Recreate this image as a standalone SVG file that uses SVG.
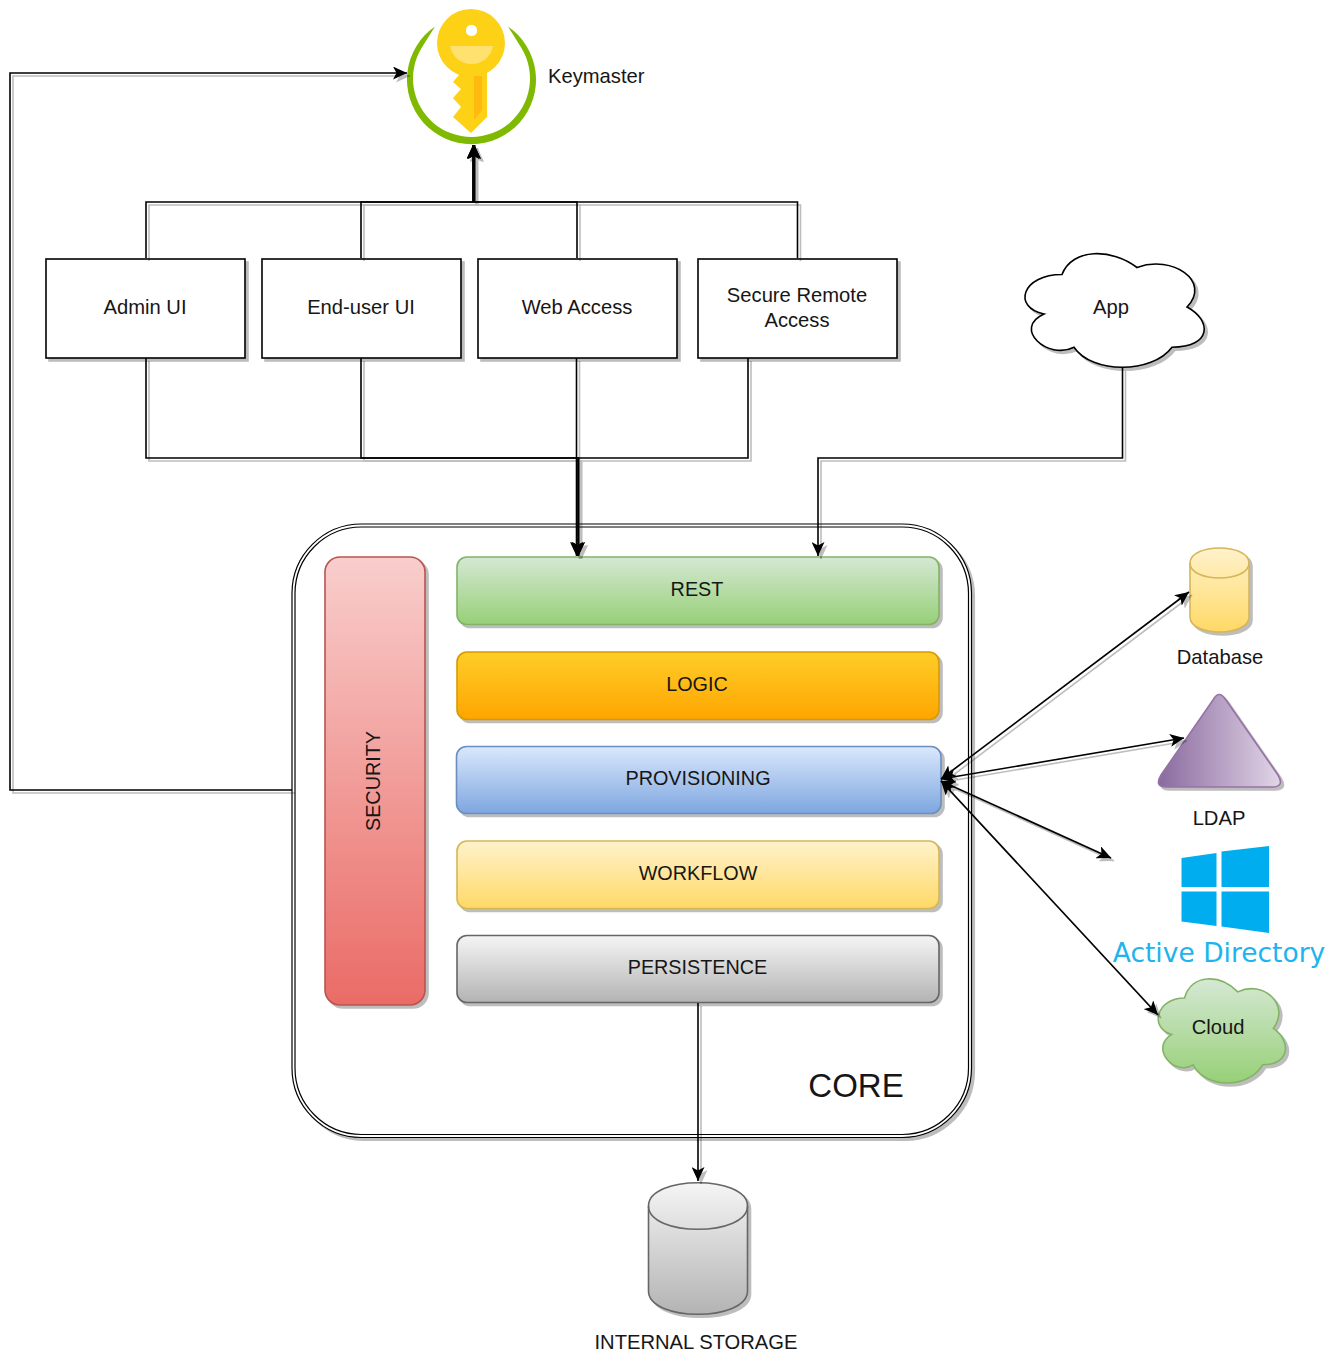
<svg xmlns="http://www.w3.org/2000/svg" width="1328" height="1351" viewBox="0 0 1328 1351">
<style>
text{font-family:"Liberation Sans",Arial,sans-serif;font-size:20.2px;fill:#161616;text-anchor:middle}
.up{font-size:19.8px}
.sh{filter:url(#shadow)}
.box{fill:#fff;stroke:#000;stroke-width:1.6}
.bar{stroke-width:1.6}
.c{fill:none;stroke:#000;stroke-width:1.6;marker-end:url(#arrow)}
.c2{fill:none;stroke:#000;stroke-width:1.6;marker-start:url(#arrow);marker-end:url(#arrow)}
</style>
<defs>
<filter id="shadow" filterUnits="userSpaceOnUse" x="0" y="0" width="1328" height="1351" color-interpolation-filters="sRGB"><feDropShadow dx="3" dy="3" stdDeviation="0.6" flood-color="#000" flood-opacity="0.26"/></filter>
<marker id="arrow" markerUnits="userSpaceOnUse" viewBox="0 0 14 13" markerWidth="14" markerHeight="13" refX="14" refY="6.5" orient="auto-start-reverse"><path d="M0,0L14,6.5L0,13L3.500,6.5Z" fill="#000"/></marker>
<linearGradient id="gGreen" x1="0" y1="0" x2="0" y2="1"><stop offset="0" stop-color="#d5e8d4"/><stop offset="1" stop-color="#97d077"/></linearGradient>
<linearGradient id="gOrange" x1="0" y1="0" x2="0" y2="1"><stop offset="0" stop-color="#ffcd28"/><stop offset="1" stop-color="#ffa500"/></linearGradient>
<linearGradient id="gBlue" x1="0" y1="0" x2="0" y2="1"><stop offset="0" stop-color="#dae8fc"/><stop offset="1" stop-color="#7ea6e0"/></linearGradient>
<linearGradient id="gYellow" x1="0" y1="0" x2="0" y2="1"><stop offset="0" stop-color="#fff2cc"/><stop offset="1" stop-color="#ffd966"/></linearGradient>
<linearGradient id="gGrey" x1="0" y1="0" x2="0" y2="1"><stop offset="0" stop-color="#f5f5f5"/><stop offset="1" stop-color="#b3b3b3"/></linearGradient>
<linearGradient id="gRed" x1="0" y1="0" x2="0" y2="1"><stop offset="0" stop-color="#f8cecc"/><stop offset="1" stop-color="#ea6b66"/></linearGradient>
<linearGradient id="gPurple" x1="0" y1="0" x2="1" y2="0"><stop offset="0" stop-color="#8a6a9e"/><stop offset="1" stop-color="#e1d5e7"/></linearGradient>
</defs>

<g id="core">
<rect class="sh" x="293.500" y="525.500" width="676.500" height="610.500" rx="68" fill="#fff" stroke="#000" stroke-width="4.200"/>
<rect x="293.500" y="525.500" width="676.500" height="610.500" rx="68" fill="none" stroke="#fff" stroke-width="1.800"/>
<text x="856" y="1097" style="font-size:33px">CORE</text>
</g>

<g id="security">
<rect class="sh bar" x="325" y="557" width="100" height="448" rx="15" fill="url(#gRed)" stroke="#b85450"/>
<text class="up" transform="translate(380,781) rotate(-90)">SECURITY</text>
</g>
<g id="rest">
<rect class="sh bar" x="457" y="557" width="482" height="67.500" rx="10" fill="url(#gGreen)" stroke="#82b366"/>
<text class="up" x="697" y="596">REST</text>
</g>
<g id="logic">
<rect class="sh bar" x="457" y="652" width="482" height="67.500" rx="10" fill="url(#gOrange)" stroke="#d79b00"/>
<text class="up" x="697" y="690.500">LOGIC</text>
</g>
<g id="provisioning">
<rect class="sh bar" x="456.500" y="746.500" width="484.500" height="67" rx="10" fill="url(#gBlue)" stroke="#6c8ebf"/>
<text class="up" x="698" y="785">PROVISIONING</text>
</g>
<g id="workflow">
<rect class="sh bar" x="457" y="841" width="482" height="67.500" rx="10" fill="url(#gYellow)" stroke="#d6b656"/>
<text class="up" x="698" y="879.500">WORKFLOW</text>
</g>
<g id="persistence">
<rect class="sh bar" x="457" y="935.500" width="482" height="67" rx="10" fill="url(#gGrey)" stroke="#666"/>
<text class="up" x="697.500" y="974">PERSISTENCE</text>
</g>

<g id="keymaster">
<path d="M435,26.500A64.500,64.500 0 1 0 508,26.500L521.100,47.500A58.500,58.500 0 1 1 421.900,47.500Z" fill="#7fba00"/>
<path d="M459,75L453,82L461,89L453,98L461,107L453,117L471,133L487,117V68H459Z" fill="#fcd116"/>
<circle cx="471" cy="43" r="34" fill="#fcd116"/>
<rect x="466" y="25" width="11" height="11" rx="5" fill="#fff"/>
<path d="M450,46H493C491,57 482,64 471.500,64C461,64 452,57 450,46Z" fill="#ffe16f"/>
<path d="M474,76H482V110L474,120Z" fill="#ffb90f"/>
<text x="548" y="83" style="text-anchor:start">Keymaster</text>
</g>

<g id="admin-ui"><rect class="sh box" x="46" y="259" width="199" height="99"/><text x="145" y="314">Admin UI</text></g>
<g id="end-user-ui"><rect class="sh box" x="262" y="259" width="199" height="99"/><text x="361" y="314">End-user UI</text></g>
<g id="web-access"><rect class="sh box" x="478" y="259" width="199" height="99"/><text x="577" y="314">Web Access</text></g>
<g id="secure-remote-access"><rect class="sh box" x="698" y="259" width="199" height="99"/><text x="797" y="302">Secure Remote</text><text x="797" y="327">Access</text></g>

<g id="app">
<path class="sh" d="M1062,274.500C1022,274.500 1012,307.500 1044,314C1012,328.400 1048,360.600 1074,347.200C1092,374 1152,374 1172,347.200C1212,347.200 1212,320.400 1187,307C1212,281 1172,254.500 1137,267.500C1112,248 1072,248 1062,274.500Z" fill="#fff" stroke="#000" stroke-width="1.600"/>
<text x="1111" y="314">App</text>
</g>

<g id="database">
<path class="sh" d="M1190,563C1190,543 1249,543 1249,563V617C1249,637 1190,637 1190,617Z" fill="url(#gYellow)" stroke="#d6b656" stroke-width="1.600"/>
<path d="M1190,563C1190,583 1249,583 1249,563" fill="none" stroke="#d6b656" stroke-width="1.600"/>
<text x="1220" y="664">Database</text>
</g>

<g id="ldap">
<path class="sh" d="M1213,700Q1219,689 1226,700L1278,775Q1285,787 1272,787H1166Q1154,787 1161,775Z" fill="url(#gPurple)" stroke="#9673a6" stroke-width="1.600"/>
<text x="1219" y="825">LDAP</text>
</g>

<g id="active-directory">
<path d="M1181.500,858L1216.500,853V887H1181.500ZM1221.500,851.500L1269,846V887H1221.500ZM1181.500,891.500H1216.500V926L1181.500,921.500ZM1221.500,891.500H1269V933L1221.500,926.500Z" fill="#00adef"/>
<text x="1219" y="962" style="font-family:'DejaVu Sans',Verdana,sans-serif;font-size:26.500px;fill:#20b4ee">Active Directory</text>
</g>

<g id="cloud">
<path class="sh" d="M1184.500,998C1156.100,998 1149,1028.400 1171.700,1034.400C1149,1047.800 1174.600,1077 1193,1064.800C1205.800,1089.100 1248.400,1089.100 1262.600,1064.800C1291,1064.800 1291,1040.500 1273.300,1028.400C1291,1004 1262.600,979.800 1237.800,991.900C1220,973.700 1191.600,973.700 1184.500,998Z" fill="url(#gGreen)" stroke="#82b366" stroke-width="1.600"/>
<text x="1218" y="1034">Cloud</text>
</g>

<g id="internal-storage">
<path class="sh" d="M648.500,1206C648.500,1175 747.500,1175 747.500,1206V1291C747.500,1322 648.500,1322 648.500,1291Z" fill="url(#gGrey)" stroke="#666" stroke-width="1.600"/>
<path d="M648.500,1206C648.500,1237 747.500,1237 747.500,1206" fill="none" stroke="#666" stroke-width="1.600"/>
<text x="696" y="1349">INTERNAL STORAGE</text>
</g>

<g id="connectors" class="sh">
<path class="c" d="M146,258V202H473V145"/>
<path class="c" d="M361,258V202H474.500V145"/>
<path class="c" d="M577,258V202H474.500V145"/>
<path class="c" d="M797.500,258V202H473V145"/>
<path class="c" d="M146,358V458H577V556"/>
<path class="c" d="M361,358V458H578.500V556"/>
<path class="c" d="M576.500,358V556"/>
<path class="c" d="M748,358V458H578.500V556"/>
<path class="c" d="M1122.500,368V458H818V556"/>
<path class="c" d="M292,790H10V73H407"/>
<path class="c2" d="M941,779L1189,592"/>
<path class="c2" d="M941,779L1184,738"/>
<path class="c2" d="M941,781L1111,858"/>
<path class="c2" d="M941,781L1158,1015"/>
<path class="c" d="M698,1003V1181"/>
</g>
</svg>
